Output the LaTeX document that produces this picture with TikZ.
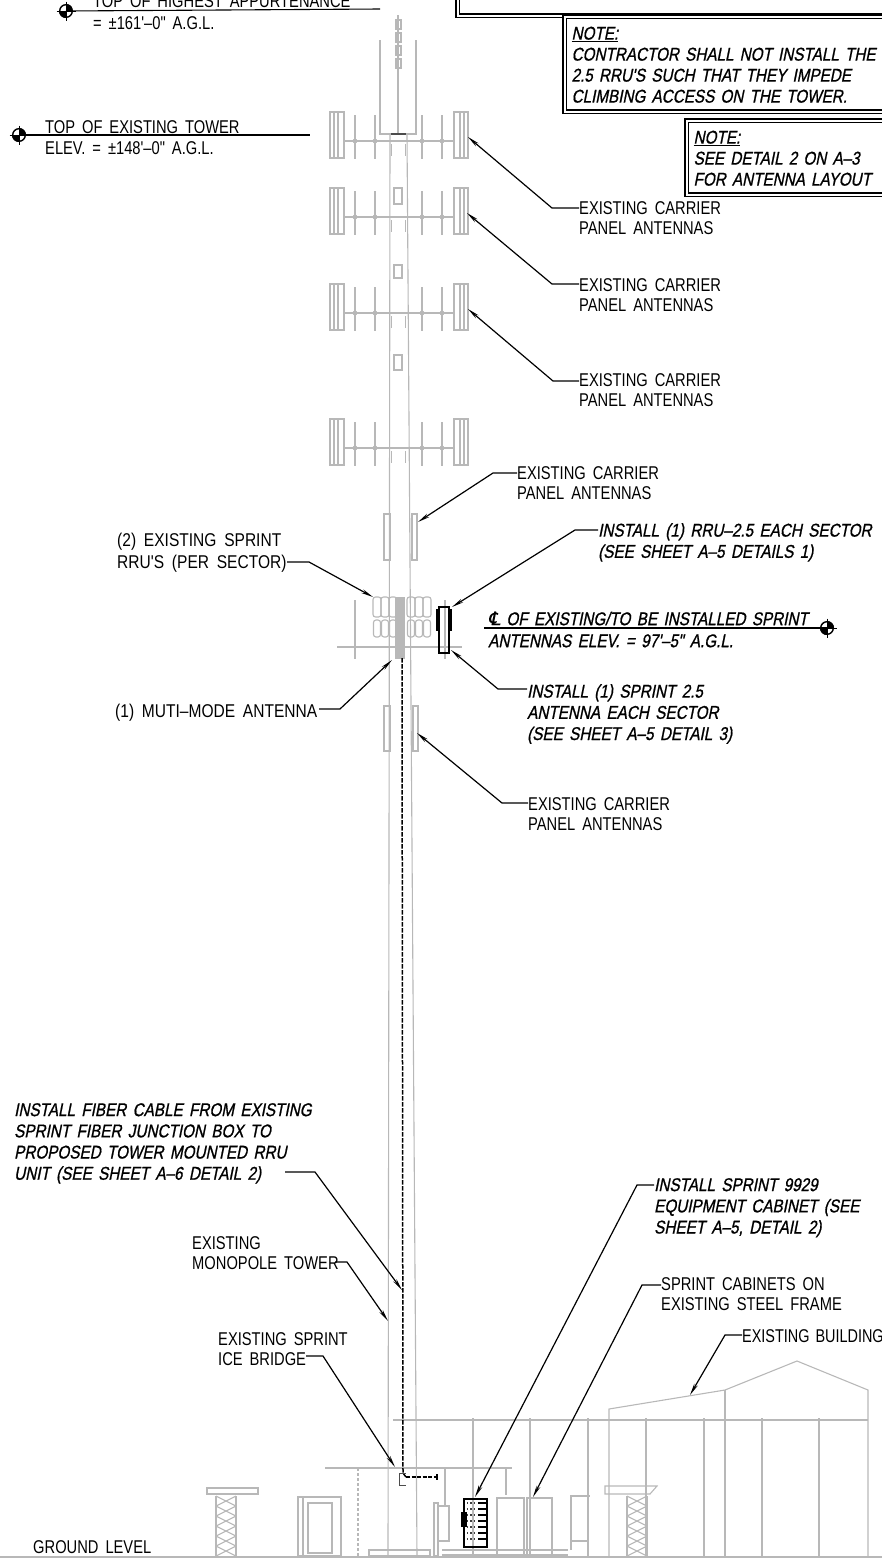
\documentclass[tikz,border=0pt]{standalone}
\usepackage{fontspec}
\usetikzlibrary{arrows.meta}
\newfontfamily\labf[FakeStretch=0.795,WordSpace=1.7]{Liberation Sans}
\newfontfamily\labn[FakeStretch=0.78,WordSpace=1.5]{Liberation Sans}
\newfontfamily\labw[FakeStretch=0.84,WordSpace=1.8]{Liberation Sans}
\newfontfamily\insf[FakeStretch=0.825,WordSpace=1.5,FakeBold=0.9,FakeSlant=0.2]{Liberation Sans}
\newfontfamily\clf[FakeSlant=0.2,FakeBold=0.3]{DejaVu Sans}
\definecolor{tg}{gray}{0.72}
\tikzset{
  lab/.style={anchor=north west,inner sep=0pt,yshift=14pt,align=left,font=\labf\fontsize{18.5}{20.5}\selectfont,execute at begin node=\rule{0pt}{14pt}},
  labwide/.style={lab,font=\labw\fontsize{18.5}{22}\selectfont},
  labnarrow/.style={lab,font=\labn\fontsize{18.5}{20.5}\selectfont},
  ins/.style={anchor=north west,inner sep=0pt,yshift=14pt,align=left,font=\insf\fontsize{18.5}{21.2}\selectfont,execute at begin node=\rule{0pt}{14pt}},
  leader/.style={draw=black,line width=1.2pt,-{Stealth[length=12pt,width=4pt]}},
  plain/.style={draw=black,line width=1.1pt},
  tower/.style={draw=tg,line width=1.1pt},
  thick grey/.style={draw=tg,line width=2pt},
  notebox/.style={anchor=north west,draw=black,double,double distance=2.2pt,line width=1.2pt,inner xsep=7pt,inner ysep=9pt,align=left,text width=320pt,font=\insf\fontsize{18.5}{21}\selectfont,execute at begin node=\rule{0pt}{14pt}},
  target/.pic={
    \begin{scope}
      \clip (0,0) circle[radius=7];
      \fill[black] (0,0) rectangle (7,-7);
      \fill[black] (0,0) rectangle (-7,7);
    \end{scope}
    \draw[black,line width=1.4pt] (0,0) circle[radius=6.3];
    \draw[black,line width=1pt] (0,-9.5) -- (0,9.5);
    \draw[black,line width=1pt] (-9.5,0) -- (9.5,0);
  },
  antrow/.pic={
    \draw[tower] (330,-29) rectangle (344,17);
    \draw[tower] (334,-29) -- (334,17);
    \draw[tower] (338,-29) -- (338,17);
    \draw[tower] (454,-29) rectangle (468,17);
    \draw[tower] (460,-29) -- (460,17);
    \draw[tower] (464,-29) -- (464,17);
    \draw[thick grey,line width=1.4pt] (344,0) -- (454,0);
    \foreach \vx in {355,375,422,442}{
      \draw[tower,line width=1.4pt] (\vx,-26) -- (\vx,18);
      \fill[tg] (\vx,0) circle[radius=2.4];
    }
    \draw[tower,line width=.7pt] (391,3) -- (391,15);
    \draw[tower,line width=.7pt] (405,3) -- (405,15);
  },
  lattice/.pic={
    \foreach \ly in {0,10,20,30,40,50}{
      \draw[tower] (0,\ly) -- (20,\ly+10);
      \draw[tower] (20,\ly) -- (0,\ly+10);
    }
    \draw[tower] (0,0) -- (0,60);
    \draw[tower] (20,0) -- (20,60);
  }
}
\begin{document}
\begin{tikzpicture}[x=1pt,y=-1pt]
\useasboundingbox (0,0) rectangle (882,1564);

% ---- tower (grey line work)
\draw[tower] (390,135) -- (388,1556);
\draw[tower] (407,135) -- (417,1556);
\draw[tower] (380,40) -- (380,134) -- (416,134) -- (416,40);
\draw[tower] (398,15) -- (398,134);
\foreach \by in {20,33,46,59}{ \draw[tower] (396,\by) rectangle (401,\by+9); }
\draw[black!70,line width=1.6pt] (391,134) -- (406,134);
\foreach \ry in {141,217,313,448}{ \pic at (0,\ry) {antrow}; }
\foreach \ry/\rh in {188/16,265/13,355/15}{ \draw[tower] (394,\ry) rectangle (402,\ry+\rh); }
% small panels
\draw[tower] (384,514) rectangle (390,560);
\draw[tower] (412,514) rectangle (417,560);
\draw[tower] (384,706) rectangle (390,751);
\draw[tower] (413,706) rectangle (418,751);
% RRU level
\draw[tg,line width=1.6pt] (337,647) -- (462,647);
\draw[tower] (355,600) -- (355,659);
\draw[tower] (445,600) -- (445,659);
\foreach \gx in {377,385,393,411,419,427}{
  \draw[tower,rounded corners=2.5pt] (\gx-4,597) rectangle (\gx+4,617);
  \draw[tower,rounded corners=2.5pt] (\gx-3.5,620) rectangle (\gx+3.5,637);
}
\fill[tg] (395,597) rectangle (405,659);
% ---- ground details
\draw[tower,line width=1.4pt] (0,1557) -- (882,1557);
\draw[tg,line width=1.4pt] (393,1420) -- (868,1420);
\foreach \px in {473,530,588,646,704,762,819}{ \draw[thick grey] (\px,1418) -- (\px,1556); }
\draw[tower] (609,1556) -- (609,1409) -- (725,1390) -- (797,1361) -- (868,1390) -- (868,1556);
\draw[tower] (725,1390) -- (725,1556);
\draw[tg,line width=1.4pt] (325,1468) -- (512,1468);
\draw[tower,densely dashed] (358,1468) -- (358,1556);
\draw[tower] (445,1468) -- (445,1505);
\draw[tower] (506,1468) -- (506,1495);
\draw[tower] (207,1488) rectangle (258,1494);
\pic at (216,1496) {lattice};
\draw[tower] (298,1497) rectangle (341,1556);
\draw[tower] (308,1503) rectangle (332,1553);
\draw[tower] (303,1497) -- (303,1556);
\draw[tower] (369,1550) rectangle (430,1556);
\draw[tower] (434,1503) rectangle (438,1556);
\draw[tower] (438,1506) rectangle (449,1541);
\draw[tower] (442,1550) -- (568,1550);
\draw[tower] (442,1555) -- (568,1555);
\draw[tower] (497,1556) -- (497,1498) -- (524,1498) -- (524,1556);
\draw[tower] (527,1556) -- (527,1498) -- (552,1498) -- (552,1556);
\draw[tower] (571,1550) -- (571,1496) -- (590,1496);
\draw[tower] (571,1541) -- (587,1541);
\draw[tower] (605,1486) -- (657,1486) -- (650,1494) -- (605,1494) -- cycle;
\pic at (627,1496) {lattice};
% new cabinet and RRU (black)
\draw[black,line width=1.8pt] (464,1499) rectangle (487,1547);
\fill[black] (461,1512) rectangle (467,1527);
\foreach \cy in {1503,1509,1515,1521,1527,1533,1539}{
  \draw[black!75,line width=1.4pt,dotted] (467,\cy) -- (477,\cy);
  \draw[black,line width=2.4pt] (478,\cy) -- (487,\cy);
}
\draw[black,line width=1.6pt] (439,607) rectangle (449,653);
\draw[black,line width=3.4pt] (438,609) -- (438,631);
\draw[black,line width=2.4pt] (451,609) -- (451,631);
% cable
\draw[black,line width=1.5pt,dash pattern=on 4.5pt off 1.5pt] (402,658) -- (403,1473) -- (406,1477);
\draw[black,line width=1.2pt,dash pattern=on 4pt off 1.5pt] (406,1477) -- (437,1477);
\draw[black,line width=1.4pt] (437,1474) -- (437,1480);
\draw[black!70,line width=.8pt] (406,1473) -- (399,1473) -- (399,1485) -- (406,1485);

% ---- boxes
\node[notebox,text width=500pt,minimum height=22pt] (box0) at (457,-17) {};
\node[notebox] (note1) at (564,16) {\underline{NOTE:}\\CONTRACTOR SHALL NOT INSTALL THE\\2.5 RRU'S SUCH THAT THEY IMPEDE\\CLIMBING ACCESS ON THE TOWER.};
\node[notebox,text width=200pt] (note2) at (686,120) {\underline{NOTE:}\\SEE DETAIL 2 ON A–3\\FOR ANTENNA LAYOUT};

% ---- elevations
\node[lab] (top1) at (93,7) {TOP OF HIGHEST APPURTENANCE};
\node[lab] (top1b) at (93,29) {= ±161'–0" A.G.L.};
\coordinate (tg1) at (66,11);
\coordinate (tg1e) at (380,9);
\draw[plain] (tg1) -- (tg1e);
\pic at (tg1) {target};
\node[lab] (top2) at (45,133) {TOP OF EXISTING TOWER};
\node[lab] (top2b) at (45,154) {ELEV. = ±148'–0" A.G.L.};
\coordinate (tg2) at (19,135);
\coordinate (tg2e) at (310,135);
\draw[plain] (tg2) -- (tg2e);
\pic at (tg2) {target};
\node[ins] (cl1) at (488,625) {{\clf ℄} OF EXISTING/TO BE INSTALLED SPRINT};
\node[ins] (cl2) at (488,647) {ANTENNAS ELEV. = 97'–5" A.G.L.};
\coordinate (tg3) at (827,628);
\coordinate (tg3s) at (484,628);
\draw[plain] (tg3s) -- (tg3);
\pic at (tg3) {target};
\node[lab] (gl) at (33,1553) {GROUND LEVEL};

% ---- labels
\node[lab] (l1) at (579,215) {EXISTING CARRIER\\PANEL ANTENNAS};
\node[lab] (l2) at (579,292) {EXISTING CARRIER\\PANEL ANTENNAS};
\node[lab] (l3) at (579,387) {EXISTING CARRIER\\PANEL ANTENNAS};
\node[lab] (l4) at (517,480) {EXISTING CARRIER\\PANEL ANTENNAS};
\node[ins] (l5) at (598,537) {INSTALL (1) RRU–2.5 EACH SECTOR\\(SEE SHEET A–5 DETAILS 1)};
\node[ins] (l6) at (527,698) {INSTALL (1) SPRINT 2.5\\ANTENNA EACH SECTOR\\(SEE SHEET A–5 DETAIL 3)};
\node[lab] (l7) at (528,811) {EXISTING CARRIER\\PANEL ANTENNAS};
\node[labwide] (l8) at (117,547) {(2) EXISTING SPRINT\\RRU'S (PER SECTOR)};
\node[labwide] (l9) at (115,717) {(1) MUTI–MODE ANTENNA};
\node[ins] (l10) at (14,1117) {INSTALL FIBER CABLE FROM EXISTING\\SPRINT FIBER JUNCTION BOX TO\\PROPOSED TOWER MOUNTED RRU\\UNIT (SEE SHEET A–6 DETAIL 2)};
\node[lab] (l11) at (192,1250) {EXISTING\\MONOPOLE TOWER};
\node[lab] (l12) at (218,1346) {EXISTING SPRINT\\ICE BRIDGE};
\node[ins] (l13) at (654,1192) {INSTALL SPRINT 9929\\EQUIPMENT CABINET (SEE\\SHEET A–5, DETAIL 2)};
\node[lab] (l14) at (661,1291) {SPRINT CABINETS ON\\EXISTING STEEL FRAME};
\node[labnarrow] (l15) at (742,1342) {EXISTING BUILDING};

% ---- leader elbows, ends and tips
\coordinate (e1) at (552,208);  \coordinate (t1) at (468,137);
\coordinate (e2) at (552,284);  \coordinate (t2) at (467,213);
\coordinate (e3) at (553,381);  \coordinate (t3) at (468,309);
\coordinate (e4) at (493,473);  \coordinate (t4) at (418,522);
\coordinate (e5) at (575,530);  \coordinate (t5) at (452,607);
\coordinate (e6) at (498,689);  \coordinate (t6) at (451,650);
\coordinate (e7) at (502,803);  \coordinate (t7) at (417,733);
\coordinate (s8) at (287,562);  \coordinate (e8) at (309,562);  \coordinate (t8) at (373,597);
\coordinate (s9) at (319,709);  \coordinate (e9) at (340,709);  \coordinate (t9) at (392,660);
\coordinate (s10) at (285,1172);\coordinate (e10) at (315,1172);\coordinate (t10) at (402,1290);
\coordinate (s11) at (335,1262);\coordinate (e11) at (347,1262);\coordinate (t11) at (388,1321);
\coordinate (s12) at (306,1356);\coordinate (e12) at (323,1356);\coordinate (t12) at (395,1467);
\coordinate (e13) at (637,1185);\coordinate (t13) at (475,1497);
\coordinate (e14) at (642,1285);\coordinate (t14) at (533,1497);
\coordinate (e15) at (725,1335);\coordinate (t15) at (690,1395);

\draw[leader] (l1.west |- e1) -- (e1) -- (t1);
\draw[leader] (l2.west |- e2) -- (e2) -- (t2);
\draw[leader] (l3.west |- e3) -- (e3) -- (t3);
\draw[leader] (l4.west |- e4) -- (e4) -- (t4);
\draw[leader] (l5.west |- e5) -- (e5) -- (t5);
\draw[leader] (l6.west |- e6) -- (e6) -- (t6);
\draw[leader] (l7.west |- e7) -- (e7) -- (t7);
\draw[leader] (s8) -- (e8) -- (t8);
\draw[leader] (s9) -- (e9) -- (t9);
\draw[leader] (s10) -- (e10) -- (t10);
\draw[leader] (s11) -- (e11) -- (t11);
\draw[leader] (s12) -- (e12) -- (t12);
\draw[leader] (l13.west |- e13) -- (e13) -- (t13);
\draw[leader] (l14.west |- e14) -- (e14) -- (t14);
\draw[leader] (l15.west |- e15) -- (e15) -- (t15);
\end{tikzpicture}
\end{document}
